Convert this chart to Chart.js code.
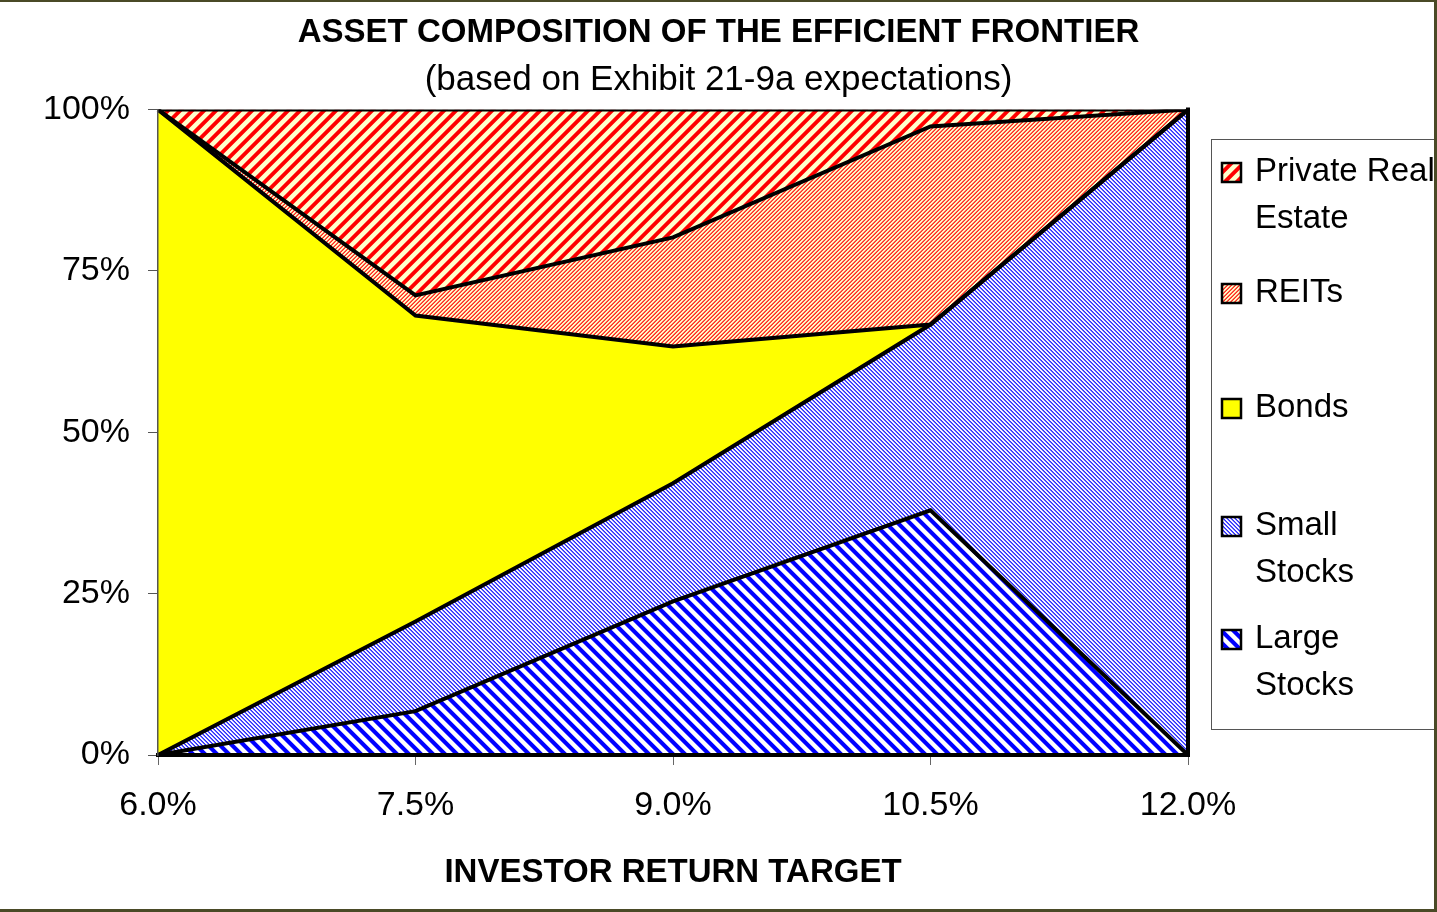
<!DOCTYPE html>
<html><head><meta charset="utf-8">
<script src="https://cdn.jsdelivr.net/npm/chart.js@4.4.1/dist/chart.umd.min.js"></script>
<style>html,body{margin:0;padding:0;background:#fff;overflow:hidden}canvas{display:block}</style>
</head><body>
<canvas id="c" width="1437" height="912"></canvas>
<script>
const categories = ['6.0%', '7.5%', '9.0%', '10.5%', '12.0%'];
const largeStocks = [0, 6.8, 23.8, 37.9, 0];
const smallStocks = [0, 13.9, 18.3, 28.8, 100];
const bonds = [100, 47.4, 21.2, 0, 0];
const reits = [0, 3.1, 16.9, 30.7, 0];
const privateRealEstate = [0, 28.8, 19.8, 2.6, 0];
const yTickValues = [0, 25, 50, 75, 100];
const yTickLabels = ['0%', '25%', '50%', '75%', '100%'];
const seriesNames = ['Large Stocks', 'Small Stocks', 'Bonds', 'REITs', 'Private Real Estate'];

const FONT = "'Liberation Sans', Arial, sans-serif";

function stripePattern(period, dir, fg, bg, duty) {
  const size = period;
  const c = document.createElement('canvas');
  c.width = size; c.height = size;
  const g = c.getContext('2d');
  const img = g.createImageData(size, size);
  const S = 6;
  for (let y = 0; y < size; y++) {
    for (let x = 0; x < size; x++) {
      let cnt = 0;
      for (let sy = 0; sy < S; sy++) for (let sx = 0; sx < S; sx++) {
        const px = x + (sx + 0.5) / S, py = y + (sy + 0.5) / S;
        let s = dir > 0 ? (px + py) : (px - py + size * 4);
        s = ((s % period) + period) % period;
        if (s < duty * period) cnt++;
      }
      const w = cnt / (S * S);
      const i = (y * size + x) * 4;
      img.data[i] = Math.round(fg[0] * w + bg[0] * (1 - w));
      img.data[i + 1] = Math.round(fg[1] * w + bg[1] * (1 - w));
      img.data[i + 2] = Math.round(fg[2] * w + bg[2] * (1 - w));
      img.data[i + 3] = 255;
    }
  }
  g.putImageData(img, 0, 0);
  return document.getElementById('c').getContext('2d').createPattern(c, 'repeat');
}

const RED = [255, 0, 0], CREAM = [255, 255, 204], BLUE = [0, 0, 255], WHITE = [255, 255, 255];
const patLarge = stripePattern(12, -1, BLUE, WHITE, 0.48);
const patSmall = stripePattern(4, -1, BLUE, WHITE, 0.36);
const patBonds = '#FFFF00';
const patReits = stripePattern(4, 1, RED, CREAM, 0.36);
const patPre = stripePattern(12, 1, RED, CREAM, 0.45);

const fills = [patLarge, patSmall, patBonds, patReits, patPre];
const values = [largeStocks, smallStocks, bonds, reits, privateRealEstate];

const datasets = values.map((v, i) => ({
  label: seriesNames[i],
  data: v,
  yAxisID: 'y',
  backgroundColor: fills[i],
  borderColor: '#000',
  borderWidth: 4,
  pointRadius: 0,
  tension: 0,
  fill: i === 0 ? 'origin' : '-1'
}));

const decor = {
  id: 'decor',
  afterDatasetsDraw(chart) {
    const { ctx, chartArea: a } = chart;
    ctx.save();
    ctx.strokeStyle = '#000';
    ctx.lineWidth = 4;
    ctx.beginPath();
    ctx.moveTo(a.right, a.top - 2);
    ctx.lineTo(a.right, a.bottom + 2);
    ctx.stroke();
    ctx.restore();
  },
  afterDraw(chart) {
    const ctx = chart.ctx;
    ctx.save();
    ctx.strokeStyle = '#555';
    ctx.lineWidth = 1;
    ctx.strokeRect(1211.5, 139.5, 260, 590);
    const baselines = [[181, 228], [302], [417], [535, 582], [648, 695]];
    ctx.font = '33px ' + FONT;
    ctx.textBaseline = 'alphabetic';
    ctx.textAlign = 'left';
    const order = [4, 3, 2, 1, 0];
    order.forEach((di, k) => {
      const ds = chart.data.datasets[di];
      const words = ds.label.split(' ');
      const lines = [];
      let cur = '';
      words.forEach(w => {
        const t = cur ? cur + ' ' + w : w;
        if (ctx.measureText(t).width > 186 && cur) { lines.push(cur); cur = w; } else cur = t;
      });
      lines.push(cur);
      const bl = baselines[k];
      const sy = bl[0] - 18;
      ctx.fillStyle = ds.backgroundColor;
      ctx.fillRect(1222, sy, 19, 19);
      ctx.strokeStyle = '#000';
      ctx.lineWidth = 2.5;
      ctx.strokeRect(1222, sy, 19, 19);
      ctx.fillStyle = '#000';
      lines.forEach((ln, j) => {
        const y = bl[j] !== undefined ? bl[j] : bl[0] + 47 * j;
        ctx.fillText(ln, 1255, y);
      });
    });
    ctx.strokeStyle = '#4a4a26';
    ctx.lineWidth = 3;
    ctx.beginPath();
    ctx.moveTo(0, 0.5);
    ctx.lineTo(1435.5, 0.5);
    ctx.lineTo(1435.5, 910.5);
    ctx.lineTo(0, 910.5);
    ctx.stroke();
    ctx.restore();
  }
};

new Chart(document.getElementById('c'), {
  type: 'line',
  data: { labels: categories, datasets },
  plugins: [decor],
  options: {
    responsive: false,
    animation: false,
    devicePixelRatio: 1,
    layout: { padding: { left: 0, right: 0, top: 0, bottom: 0 } },
    plugins: {
      legend: { display: false },
      tooltip: { enabled: false },
      filler: { drawTime: 'beforeDatasetsDraw', propagate: false },
      title: {
        display: true,
        text: 'ASSET COMPOSITION OF THE EFFICIENT FRONTIER',
        color: '#000',
        font: { family: FONT, size: 33, weight: 'bold' },
        padding: { top: 13, bottom: 0 }
      },
      subtitle: {
        display: true,
        text: '(based on Exhibit 21-9a expectations)',
        color: '#000',
        font: { family: FONT, size: 35, weight: 'normal' },
        padding: { top: 7, bottom: 8 }
      }
    },
    scales: {
      x: {
        offset: false,
        afterFit: (s) => { s.height = 157; },
        grid: { display: true, drawOnChartArea: false, drawTicks: true, tickLength: 10, color: '#666' },
        border: { display: true, color: '#000', width: 4, z: 1 },
        ticks: { color: '#000', font: { family: FONT, size: 34 }, padding: 20, maxRotation: 0, autoSkip: false },
        title: {
          display: true,
          text: 'INVESTOR RETURN TARGET',
          color: '#000',
          font: { family: FONT, size: 33, weight: 'bold' },
          padding: { top: 20, bottom: 19 }
        }
      },
      y: {
        stacked: true,
        min: 0,
        max: 100,
        afterFit: (s) => { s.width = 158; },
        afterBuildTicks: (s) => { s.ticks = yTickValues.map(v => ({ value: v })); },
        grid: { drawOnChartArea: false, drawTicks: true, tickLength: 10, color: '#555' },
        border: { display: true, color: '#555', width: 1.5, z: 1 },
        ticks: { color: '#000', font: { family: FONT, size: 34 }, padding: 18, callback: (v, i) => yTickLabels[i] }
      },
      y2: {
        position: 'right',
        min: 0,
        max: 100,
        afterFit: (s) => { s.width = 249; },
        grid: { display: false, drawTicks: false },
        border: { display: false },
        ticks: { display: false }
      }
    }
  }
});
</script>
</body></html>
